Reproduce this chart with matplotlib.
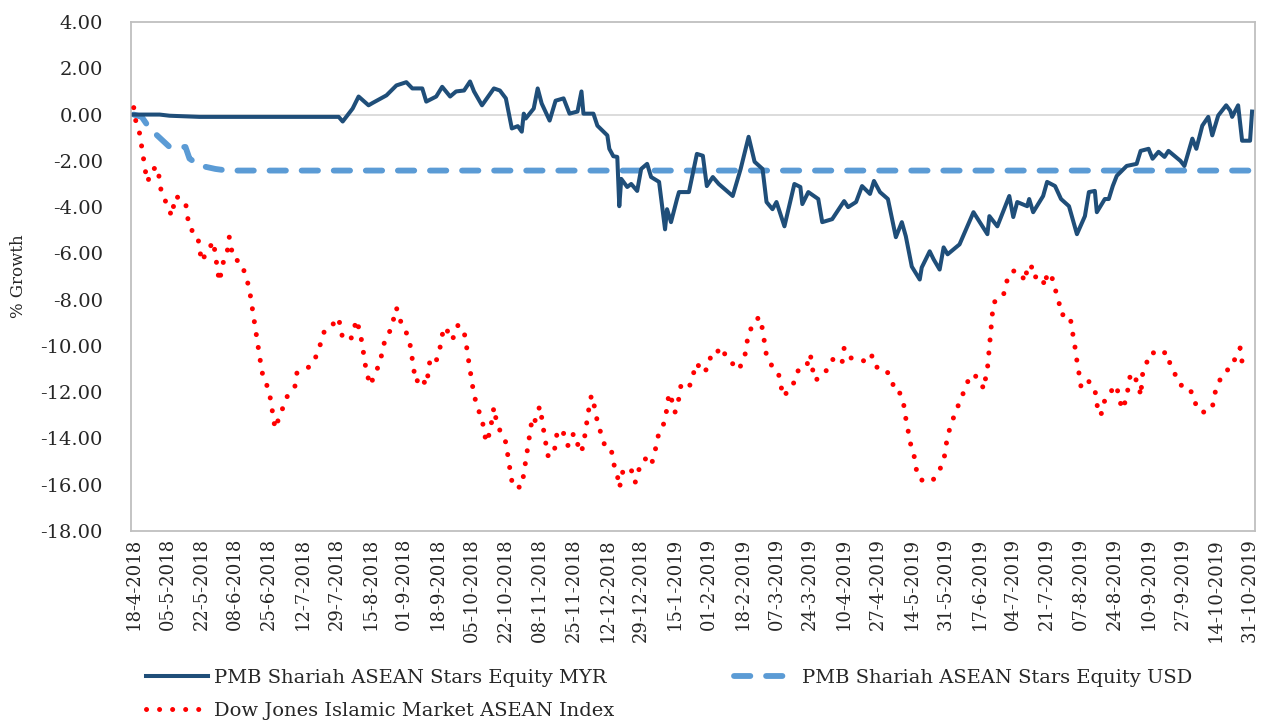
import numpy as np
import matplotlib
matplotlib.use("Agg")
import matplotlib.pyplot as plt
from matplotlib.lines import Line2D

# ================== DATA ==================
# x values are days counted from 18-4-2018
myr_days = [0, 13, 18, 33, 103, 105, 110, 113, 118, 120, 127, 132, 137, 140, 145, 147,
            152, 155, 159, 162, 166, 169, 171, 175, 181, 184, 187, 190, 193, 195, 196,
            197, 201, 203, 205, 209, 212, 216, 219, 223, 225, 226, 231, 233, 238, 239,
            241, 243, 244, 245, 248, 250, 253, 255, 258, 260, 264, 267, 268, 270, 273,
            274, 279, 283, 286, 288, 291, 294, 301, 305, 309, 312, 316, 318, 321, 323,
            327, 332, 335, 336, 339, 344, 346, 351, 357, 359, 363, 366, 370, 372, 375,
            379, 383, 386, 388, 391, 395, 396, 400, 402, 405, 407, 409, 415, 422, 429,
            430, 434, 440, 442, 444, 449, 450, 452, 457, 459, 463, 466, 470, 474, 478,
            480, 483, 484, 488, 490, 492, 494, 499, 504, 506, 510, 512, 515, 518, 520,
            526, 528, 532, 534, 537, 540, 542, 545, 549, 551, 552, 555, 557, 561, 562]
myr_vals = [0.00, 0.00, -0.05, -0.10, -0.10, -0.30, 0.26, 0.78, 0.40, 0.50, 0.83, 1.26,
            1.40, 1.13, 1.13, 0.56, 0.78, 1.20, 0.78, 1.00, 1.04, 1.43, 1.00, 0.40, 1.13,
            1.04, 0.70, -0.60, -0.50, -0.74, 0.04, -0.17, 0.26, 1.13, 0.48, -0.26, 0.60,
            0.70, 0.04, 0.13, 1.00, 0.04, 0.04, -0.48, -0.90, -1.48, -1.80, -1.83, -3.96,
            -2.78, -3.13, -3.00, -3.30, -2.35, -2.13, -2.70, -2.91, -4.96, -4.09, -4.65,
            -3.65, -3.35, -3.35, -1.70, -1.78, -3.09, -2.70, -3.00, -3.52, -2.35, -0.96,
            -2.04, -2.35, -3.78, -4.09, -3.78, -4.83, -3.00, -3.13, -3.87, -3.35, -3.65,
            -4.65, -4.52, -3.74, -4.00, -3.78, -3.09, -3.43, -2.87, -3.35, -3.65, -5.30,
            -4.65, -5.26, -6.57, -7.13, -6.61, -5.91, -6.26, -6.70, -5.74, -6.04, -5.61,
            -4.22, -5.17, -4.39, -4.83, -3.52, -4.43, -3.78, -3.96, -3.65, -4.22, -3.52,
            -2.91, -3.09, -3.65, -3.96, -5.17, -4.39, -3.35, -3.30, -4.22, -3.65, -3.65,
            -3.09, -2.65, -2.22, -2.13, -1.57, -1.48, -1.91, -1.61, -1.83, -1.57, -2.00,
            -2.22, -1.04, -1.48, -0.48, -0.10, -0.90, -0.04, 0.40, 0.17, -0.10, 0.40,
            -1.13, -1.13, 0.13]

usd_days = [0, 4, 8, 13, 18, 26, 28, 33, 41, 47, 562]
usd_vals = [0.00, -0.10, -0.60, -1.00, -1.40, -1.40, -1.90, -2.20, -2.35, -2.42, -2.42]

dj_days = [0, 1, 3, 4, 5, 6, 7, 9, 12, 13, 14, 17, 19, 21, 26, 27, 28, 32, 33, 34, 40,
           41, 42, 43, 45, 47, 48, 50, 54, 56, 58, 59, 60, 61, 62, 63, 64, 65, 68, 69,
           70, 71, 75, 77, 81, 82, 89, 92, 94, 96, 99, 103, 104, 105, 109, 112, 114, 115,
           116, 117, 119, 121, 124, 125, 127, 130, 131, 132, 134, 137, 139, 140, 141,
           142, 144, 147, 148, 149, 152, 154, 155, 157, 159, 161, 163, 166, 167, 168,
           169, 170, 171, 173, 175, 176, 177, 179, 181, 182, 184, 187, 188, 189, 190,
           191, 195, 196, 197, 198, 199, 200, 201, 202, 204, 205, 206, 207, 208, 211,
           212, 213, 216, 218, 219, 221, 222, 225, 227, 228, 229, 230, 232, 233, 235,
           237, 240, 241, 243, 244, 245, 246, 250, 252, 253, 257, 260, 262, 263, 266,
           267, 268, 269, 271, 272, 274, 275, 279, 281, 283, 286, 289, 290, 292, 295,
           299, 302, 304, 307, 308, 309, 311, 312, 314, 316, 317, 318, 321, 324, 325,
           327, 329, 332, 334, 338, 340, 341, 342, 345, 349, 352, 356, 357, 360, 364,
           369, 371, 373, 378, 381, 383, 385, 387, 388, 389, 390, 392, 393, 395, 398,
           401, 404, 407, 408, 409, 411, 413, 416, 418, 421, 423, 426, 427, 429, 432,
           435, 437, 438, 441, 444, 446, 448, 449, 451, 452, 456, 458, 459, 462, 463,
           465, 466, 470, 471, 472, 473, 474, 475, 476, 479, 483, 484, 485, 487, 488,
           492, 494, 495, 497, 499, 500, 501, 505, 506, 507, 508, 510, 512, 514, 519,
           521, 523, 526, 529, 533, 534, 538, 542, 543, 545, 548, 552, 554, 556, 557, 561]
dj_vals = [0.30, -0.26, -0.83, -1.40, -1.96, -2.52, -2.91, -2.39, -2.26, -2.87, -3.43,
           -3.91, -4.39, -3.52, -3.78, -4.39, -4.91, -5.22, -5.70, -6.35, -5.48, -6.04,
           -6.65, -7.22, -6.39, -5.91, -5.30, -6.22, -6.39, -6.91, -7.48, -8.04, -8.61,
           -9.17, -9.70, -10.30, -10.87, -11.35, -11.91, -12.48, -13.00, -13.57, -12.65,
           -12.20, -11.74, -11.17, -10.87, -10.39, -9.87, -9.30, -9.17, -8.78, -9.30,
           -9.65, -9.74, -8.87, -9.52, -10.04, -10.60, -11.17, -11.70, -11.22, -10.70,
           -10.09, -9.61, -9.17, -8.57, -8.35, -8.91, -9.43, -10.00, -10.60, -11.17,
           -11.57, -11.30, -11.70, -11.17, -10.52, -10.65, -10.04, -9.52, -9.17, -9.74,
           -9.61, -9.09, -9.39, -9.87, -10.48, -11.04, -11.61, -12.13, -12.70, -13.22,
           -13.57, -14.17, -13.74, -12.65, -13.13, -13.65, -14.17, -14.74, -15.30,
           -15.83, -16.13, -16.09, -15.52, -14.96, -14.39, -13.78, -13.26, -13.43,
           -13.13, -12.61, -13.09, -13.65, -14.17, -14.74, -14.74, -14.17, -13.61,
           -13.78, -14.30, -14.30, -13.78, -14.04, -14.61, -13.74, -13.09, -12.57,
           -12.13, -12.78, -13.30, -13.83, -14.39, -14.48, -15.04, -15.57, -16.13,
           -15.83, -15.30, -15.35, -15.91, -15.48, -14.87, -15.17, -14.57, -14.00,
           -13.43, -13.22, -12.65, -12.04, -12.48, -12.87, -12.26, -11.70, -11.83,
           -11.26, -10.74, -11.17, -10.91, -10.39, -10.43, -10.04, -10.65, -10.83,
           -11.04, -10.48, -9.96, -9.39, -9.17, -9.13, -8.74, -9.26, -9.87, -10.43,
           -10.91, -11.17, -11.70, -12.20, -11.83, -11.57, -11.04, -10.91, -10.35,
           -10.91, -11.48, -11.39, -10.96, -10.48, -10.70, -10.09, -10.52, -10.52,
           -10.74, -10.43, -10.91, -11.00, -11.52, -12.04, -12.04, -12.57, -13.13,
           -13.57, -14.13, -14.65, -15.26, -15.78, -15.83, -15.87, -15.52, -15.00,
           -14.43, -13.87, -13.35, -12.83, -12.26, -11.74, -11.22, -11.30, -11.57,
           -11.87, -11.00, -8.13, -7.96, -7.87, -7.35, -6.78, -6.74, -6.91, -7.22,
           -6.61, -6.48, -7.04, -6.96, -7.43, -6.83, -7.13, -7.52, -8.13, -8.65, -8.65,
           -8.96, -9.52, -10.04, -10.65, -11.17, -11.74, -11.43, -11.87, -12.48,
           -13.00, -12.87, -12.30, -11.87, -11.70, -12.26, -12.74, -12.20, -11.65,
           -11.17, -11.61, -12.17, -11.22, -11.00, -10.48, -10.26, -10.43, -10.26,
           -10.83, -11.17, -11.70, -11.70, -12.17, -12.70, -12.87, -12.70, -12.13,
           -11.61, -11.13, -10.91, -10.39, -10.09, -10.70, -10.43]

tick_days = list(range(0, 562, 17))
tick_labels = ["18-4-2018", "05-5-2018", "22-5-2018", "08-6-2018", "25-6-2018",
               "12-7-2018", "29-7-2018", "15-8-2018", "01-9-2018", "18-9-2018",
               "05-10-2018", "22-10-2018", "08-11-2018", "25-11-2018", "12-12-2018",
               "29-12-2018", "15-1-2019", "01-2-2019", "18-2-2019", "07-3-2019",
               "24-3-2019", "10-4-2019", "27-4-2019", "14-5-2019", "31-5-2019",
               "17-6-2019", "04-7-2019", "21-7-2019", "07-8-2019", "24-8-2019",
               "10-9-2019", "27-9-2019", "14-10-2019", "31-10-2019"]

y_ticks = [4, 2, 0, -2, -4, -6, -8, -10, -12, -14, -16, -18]

labels = ["PMB Shariah ASEAN Stars Equity MYR",
          "PMB Shariah ASEAN Stars Equity USD",
          "Dow Jones Islamic Market ASEAN Index"]

# ================== STYLE ==================
plt.rcParams['font.family'] = ['DejaVu Serif']
c_myr = "#1F4E79"
c_usd = "#5B9BD5"
c_dj = "#FF0000"
grey = "#BFBFBF"
txt = "#262626"

fig = plt.figure(figsize=(12.77, 7.22), dpi=100)
ax = fig.add_axes([0.1024, 0.2645, 0.8804, 0.705])

ax.axhline(0, color="#D9D9D9", lw=1.3, zorder=1)

ax.plot(myr_days, myr_vals, color=c_myr, lw=2.9, solid_joinstyle="round", zorder=3)
ax.plot(usd_days, usd_vals, color=c_usd, lw=4.2, linestyle=(0, (2.8, 2.7)),
        dash_capstyle="round", zorder=2)
ax.plot(dj_days, dj_vals, color=c_dj, lw=3.6, linestyle=(0, (0.01, 2.6)),
        dash_capstyle="round", zorder=4)

ax.set_xlim(-1.5, 563.5)
ax.set_ylim(-18, 4)
ax.set_yticks(y_ticks)
ax.set_yticklabels([f"{v:.2f}" for v in y_ticks], fontsize=14)
ax.set_xticks(tick_days)
ax.set_xticklabels(tick_labels, rotation=90, fontsize=13)
ax.tick_params(axis="both", length=0, colors=txt)
ax.tick_params(axis="y", pad=20)
ax.tick_params(axis="x", pad=5)
ax.set_ylabel("% Growth", fontsize=12, color=txt, labelpad=10)

for side in ["left", "bottom", "right", "top"]:
    ax.spines[side].set_color(grey)
    ax.spines[side].set_linewidth(1.3)

handles = [
    Line2D([], [], color=c_myr, lw=2.9),
    Line2D([], [], color=c_dj, lw=3.6, linestyle=(0, (0.01, 2.6)), dash_capstyle="round"),
    Line2D([], [], color=c_usd, lw=4.2, linestyle=(0, (2.8, 2.7)), dash_capstyle="round"),
]
fig.legend(handles, [labels[0], labels[2], labels[1]], ncol=2, frameon=False,
           loc="upper left", bbox_to_anchor=(0.114, 0.073), fontsize=14,
           handlelength=3.2, handletextpad=0.3, columnspacing=6.2, labelspacing=0.75,
           borderaxespad=0, borderpad=0, labelcolor=txt)

fig.savefig("out.png", dpi=100)
